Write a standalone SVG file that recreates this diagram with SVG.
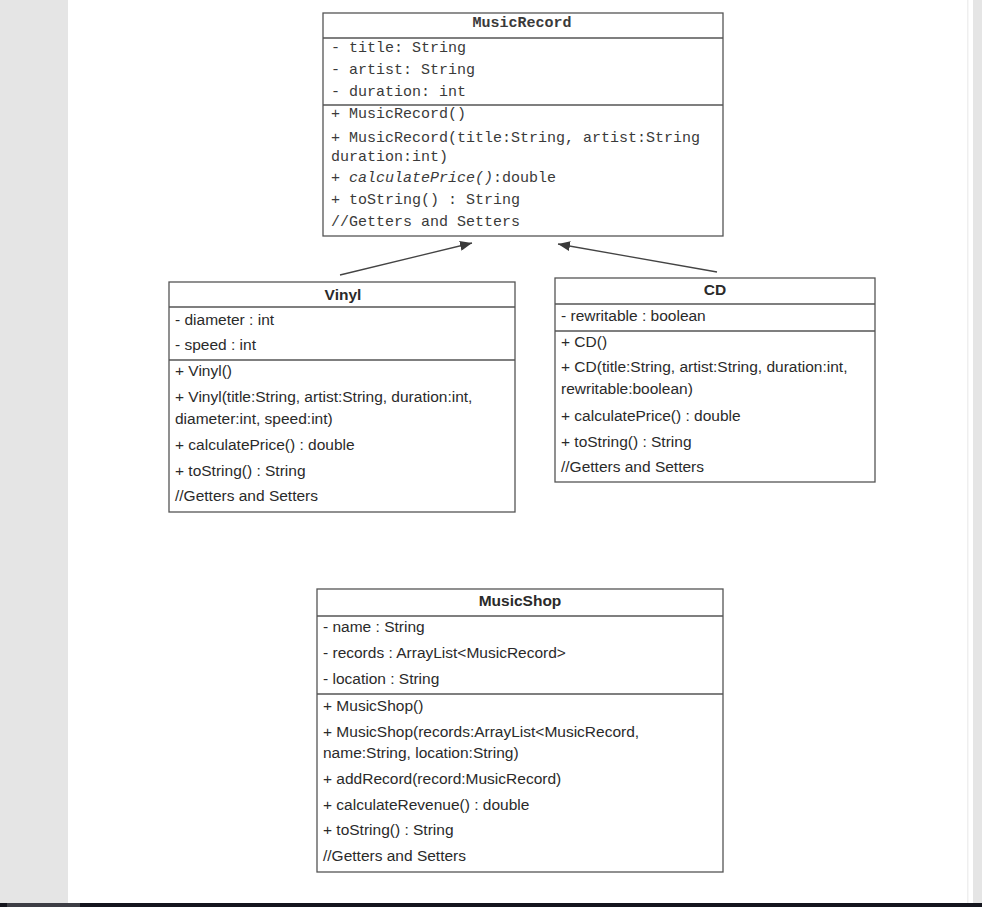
<svg xmlns="http://www.w3.org/2000/svg" width="982" height="907" viewBox="0 0 982 907">
<style>
.box{fill:#fff;stroke:#555;stroke-width:1.3}
.div{stroke:#555;stroke-width:1.3}
.mono{font-family:"Liberation Mono","Courier New",monospace;font-size:15px;fill:#3a3a3a}
.sans{font-family:"Liberation Sans",Arial,sans-serif;font-size:15.5px;fill:#2a2a2a}
.hd{font-weight:bold;text-anchor:middle}
.conn{stroke:#444;stroke-width:1.3;fill:none;marker-end:url(#arr)}
</style>
<defs>
<marker id="arr" viewBox="0 0 12 10" refX="12" refY="5" markerWidth="12" markerHeight="10" markerUnits="userSpaceOnUse" orient="auto">
<path d="M0,0 L12,5 L0,10 z" fill="#3a3a3a"/>
</marker>
</defs>
<rect x="0" y="0" width="982" height="907" fill="#fff"/>
<rect x="0" y="0" width="68" height="903" fill="#e5e5e5"/>
<rect x="973" y="0" width="9" height="903" fill="#e5e5e5"/>
<rect x="967" y="0" width="1.5" height="903" fill="#efefef"/>
<rect x="0" y="903" width="982" height="4" fill="#14151d"/>
<rect x="7" y="903" width="73" height="4" fill="#3c3d44"/>

<g id="MusicRecord">
<rect class="box" x="323" y="13" width="400" height="223"/>
<line class="div" x1="323" y1="38" x2="723" y2="38"/>
<line class="div" x1="323" y1="105" x2="723" y2="105"/>
<text class="mono hd" x="522" y="27">MusicRecord</text>
<text class="mono" x="331" y="52">- title: String</text>
<text class="mono" x="331" y="74">- artist: String</text>
<text class="mono" x="331" y="96">- duration: int</text>
<text class="mono" x="331" y="118">+ MusicRecord()</text>
<text class="mono" x="331" y="142">+ MusicRecord(title:String, artist:String</text>
<text class="mono" x="331" y="161">duration:int)</text>
<text class="mono" x="331" y="182">+ <tspan font-style="italic">calculatePrice()</tspan>:double</text>
<text class="mono" x="331" y="204">+ toString() : String</text>
<text class="mono" x="331" y="226">//Getters and Setters</text>
</g>

<g id="Vinyl">
<rect class="box" x="169" y="282" width="346" height="230"/>
<line class="div" x1="169" y1="307" x2="515" y2="307"/>
<line class="div" x1="169" y1="360" x2="515" y2="360"/>
<text class="sans hd" x="343" y="300">Vinyl</text>
<text class="sans" x="175" y="325">- diameter : int</text>
<text class="sans" x="175" y="350">- speed : int</text>
<text class="sans" x="175" y="376">+ Vinyl()</text>
<text class="sans" x="175" y="402">+ Vinyl(title:String, artist:String, duration:int,</text>
<text class="sans" x="175" y="424">diameter:int, speed:int)</text>
<text class="sans" x="175" y="450">+ calculatePrice() : double</text>
<text class="sans" x="175" y="476">+ toString() : String</text>
<text class="sans" x="175" y="501">//Getters and Setters</text>
</g>

<g id="CD">
<rect class="box" x="555" y="278" width="320" height="204"/>
<line class="div" x1="555" y1="304" x2="875" y2="304"/>
<line class="div" x1="555" y1="331" x2="875" y2="331"/>
<text class="sans hd" x="715" y="295">CD</text>
<text class="sans" x="561" y="321">- rewritable : boolean</text>
<text class="sans" x="561" y="347">+ CD()</text>
<text class="sans" x="561" y="372">+ CD(title:String, artist:String, duration:int,</text>
<text class="sans" x="561" y="394">rewritable:boolean)</text>
<text class="sans" x="561" y="421">+ calculatePrice() : double</text>
<text class="sans" x="561" y="447">+ toString() : String</text>
<text class="sans" x="561" y="472">//Getters and Setters</text>
</g>

<g id="MusicShop">
<rect class="box" x="317" y="589" width="406" height="283"/>
<line class="div" x1="317" y1="616" x2="723" y2="616"/>
<line class="div" x1="317" y1="694" x2="723" y2="694"/>
<text class="sans hd" x="520" y="606">MusicShop</text>
<text class="sans" x="323" y="632">- name : String</text>
<text class="sans" x="323" y="658">- records : ArrayList&lt;MusicRecord&gt;</text>
<text class="sans" x="323" y="684">- location : String</text>
<text class="sans" x="323" y="711">+ MusicShop()</text>
<text class="sans" x="323" y="737">+ MusicShop(records:ArrayList&lt;MusicRecord,</text>
<text class="sans" x="323" y="758">name:String, location:String)</text>
<text class="sans" x="323" y="784">+ addRecord(record:MusicRecord)</text>
<text class="sans" x="323" y="810">+ calculateRevenue() : double</text>
<text class="sans" x="323" y="835">+ toString() : String</text>
<text class="sans" x="323" y="861">//Getters and Setters</text>
</g>

<g id="connectors">
<line class="conn" x1="340" y1="275" x2="472" y2="243"/>
<line class="conn" x1="717" y1="272" x2="558" y2="244"/>
</g>
</svg>
